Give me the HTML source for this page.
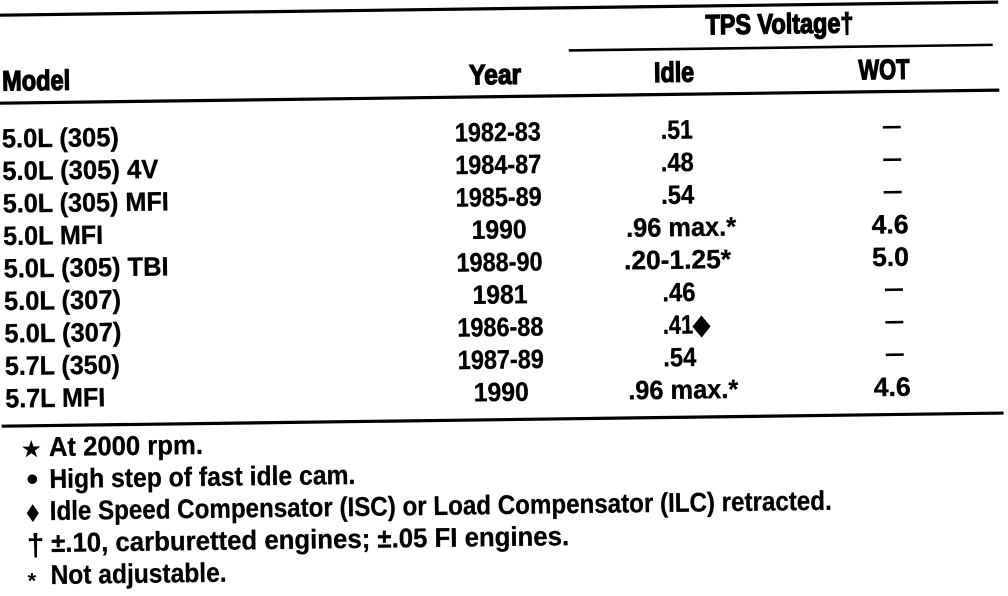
<!DOCTYPE html>
<html><head><meta charset="utf-8">
<style>
html,body{margin:0;padding:0;background:#fff;}
svg{display:block;}
text{font-family:"Liberation Sans",Arial,sans-serif;font-weight:bold;fill:#000;}
.h{font-size:28px;stroke:#000;stroke-width:1.3px;}
.b{font-size:26.5px;stroke:#000;stroke-width:0.35px;}
.f{font-size:27px;stroke:#000;stroke-width:0.3px;}
</style></head>
<body>
<svg width="1008" height="596" viewBox="0 0 1008 596" xmlns="http://www.w3.org/2000/svg">
<rect width="1008" height="596" fill="#fff"/>
<g transform="rotate(-0.75 504 298)">
  <!-- rules -->
  <rect x="0" y="7" width="1002" height="3.2" fill="#000"/>
  <rect x="572" y="50" width="424" height="2.6" fill="#000"/>
  <rect x="0" y="95" width="1002" height="3.2" fill="#000"/>
  <rect x="0" y="418" width="1002" height="3.2" fill="#000"/>

  <!-- header -->
  <text class="h" x="783" y="37" text-anchor="middle" textLength="148" lengthAdjust="spacingAndGlyphs">TPS Voltage†</text>
  <text class="h" x="5" y="84" textLength="68" lengthAdjust="spacingAndGlyphs">Model</text>
  <text class="h" x="498" y="84" text-anchor="middle" textLength="52" lengthAdjust="spacingAndGlyphs">Year</text>
  <text class="h" x="677" y="84" text-anchor="middle" textLength="40" lengthAdjust="spacingAndGlyphs">Idle</text>
  <text class="h" x="887" y="84" text-anchor="middle" textLength="51" lengthAdjust="spacingAndGlyphs">WOT</text>

  <!-- rows -->
  <text class="b" x="4" y="141" textLength="117" lengthAdjust="spacingAndGlyphs">5.0L (305)</text>
  <text class="b" x="500" y="141" text-anchor="middle" textLength="86" lengthAdjust="spacingAndGlyphs">1982-83</text>
  <text class="b" x="679" y="141" text-anchor="middle" textLength="32" lengthAdjust="spacingAndGlyphs">.51</text>
  <rect x="885" y="131" width="18" height="2.6" fill="#000"/>

  <text class="b" x="4" y="173.5" textLength="156" lengthAdjust="spacingAndGlyphs">5.0L (305) 4V</text>
  <text class="b" x="500" y="173.5" text-anchor="middle" textLength="86" lengthAdjust="spacingAndGlyphs">1984-87</text>
  <text class="b" x="679" y="173.5" text-anchor="middle" textLength="33" lengthAdjust="spacingAndGlyphs">.48</text>
  <rect x="885" y="163.5" width="18" height="2.6" fill="#000"/>

  <text class="b" x="4" y="206" textLength="166" lengthAdjust="spacingAndGlyphs">5.0L (305) MFI</text>
  <text class="b" x="500" y="206" text-anchor="middle" textLength="86" lengthAdjust="spacingAndGlyphs">1985-89</text>
  <text class="b" x="679" y="206" text-anchor="middle" textLength="33" lengthAdjust="spacingAndGlyphs">.54</text>
  <rect x="885" y="196" width="18" height="2.6" fill="#000"/>

  <text class="b" x="4" y="238.5" textLength="100" lengthAdjust="spacingAndGlyphs">5.0L MFI</text>
  <text class="b" x="500" y="238.5" text-anchor="middle" textLength="55" lengthAdjust="spacingAndGlyphs">1990</text>
  <text class="b" x="682" y="238.5" text-anchor="middle" textLength="110" lengthAdjust="spacingAndGlyphs">.96 max.*</text>
  <text class="b" x="891" y="238.5" text-anchor="middle" textLength="37" lengthAdjust="spacingAndGlyphs">4.6</text>

  <text class="b" x="4" y="271" textLength="165" lengthAdjust="spacingAndGlyphs">5.0L (305) TBI</text>
  <text class="b" x="500" y="271" text-anchor="middle" textLength="86" lengthAdjust="spacingAndGlyphs">1988-90</text>
  <text class="b" x="678" y="271" text-anchor="middle" textLength="107" lengthAdjust="spacingAndGlyphs">.20-1.25*</text>
  <text class="b" x="891" y="271" text-anchor="middle" textLength="37" lengthAdjust="spacingAndGlyphs">5.0</text>

  <text class="b" x="4" y="303.5" textLength="117" lengthAdjust="spacingAndGlyphs">5.0L (307)</text>
  <text class="b" x="500" y="303.5" text-anchor="middle" textLength="55" lengthAdjust="spacingAndGlyphs">1981</text>
  <text class="b" x="679" y="303.5" text-anchor="middle" textLength="33" lengthAdjust="spacingAndGlyphs">.46</text>
  <rect x="885" y="293.5" width="18" height="2.6" fill="#000"/>

  <text class="b" x="4" y="336" textLength="117" lengthAdjust="spacingAndGlyphs">5.0L (307)</text>
  <text class="b" x="500" y="336" text-anchor="middle" textLength="86" lengthAdjust="spacingAndGlyphs">1986-88</text>
  <text class="b" x="686" y="336" text-anchor="middle" textLength="47" lengthAdjust="spacingAndGlyphs">.41◆</text>
  <rect x="885" y="326" width="18" height="2.6" fill="#000"/>

  <text class="b" x="4" y="368.5" textLength="115" lengthAdjust="spacingAndGlyphs">5.7L (350)</text>
  <text class="b" x="500" y="368.5" text-anchor="middle" textLength="86" lengthAdjust="spacingAndGlyphs">1987-89</text>
  <text class="b" x="679" y="368.5" text-anchor="middle" textLength="33" lengthAdjust="spacingAndGlyphs">.54</text>
  <rect x="885" y="358.5" width="18" height="2.6" fill="#000"/>

  <text class="b" x="4" y="401" textLength="100" lengthAdjust="spacingAndGlyphs">5.7L MFI</text>
  <text class="b" x="500" y="401" text-anchor="middle" textLength="55" lengthAdjust="spacingAndGlyphs">1990</text>
  <text class="b" x="682" y="401" text-anchor="middle" textLength="110" lengthAdjust="spacingAndGlyphs">.96 max.*</text>
  <text class="b" x="891" y="401" text-anchor="middle" textLength="37" lengthAdjust="spacingAndGlyphs">4.6</text>

  <!-- footnotes -->
  <text x="20" y="450" style="font-size:21px">★</text>
  <text class="f" x="47" y="450" textLength="154" lengthAdjust="spacingAndGlyphs">At 2000 rpm.</text>

  <circle cx="30" cy="473" r="4.8" fill="#000"/>
  <text class="f" x="47" y="482" textLength="306" lengthAdjust="spacingAndGlyphs">High step of fast idle cam.</text>

  <polygon points="30,498 36,507 30,516 24,507" fill="#000"/>
  <text class="f" x="47" y="514" textLength="782" lengthAdjust="spacingAndGlyphs">Idle Speed Compensator (ISC) or Load Compensator (ILC) retracted.</text>

  <text x="24" y="549" style="font-size:30px;font-weight:normal;stroke:#000;stroke-width:0.8px">†</text>
  <text class="f" x="48" y="546" textLength="518" lengthAdjust="spacingAndGlyphs">±.10, carburetted engines; ±.05 FI engines.</text>

  <text x="24" y="582" style="font-size:22px">*</text>
  <text class="f" x="47" y="578" textLength="176" lengthAdjust="spacingAndGlyphs">Not adjustable.</text>
</g>
</svg>
</body></html>
